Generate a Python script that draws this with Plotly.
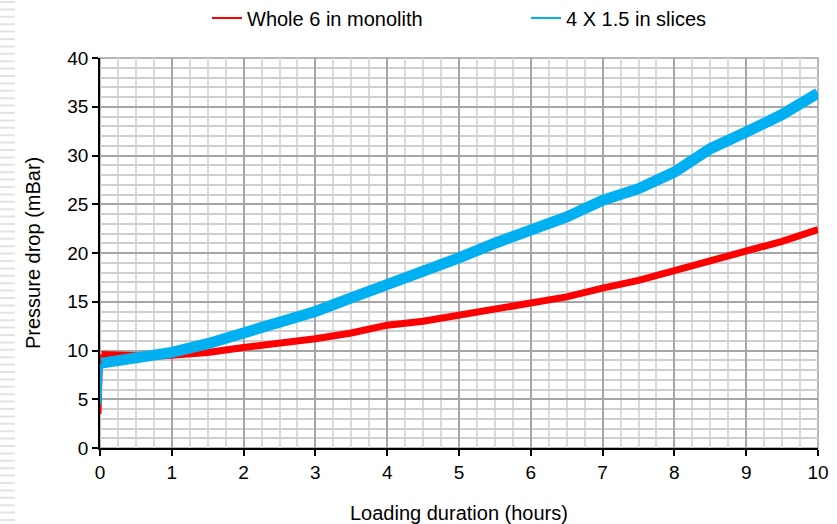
import plotly.graph_objects as go

# ---- data ----
hours = [0, 0.02, 0.25, 0.5, 0.75, 1, 1.5, 2, 2.5, 3, 3.5, 4, 4.5, 5,
         5.5, 6, 6.5, 7, 7.5, 8, 8.5, 9, 9.5, 10]
monolith = [3.5, 9.6, 9.5, 9.4, 9.4, 9.5, 9.8, 10.3, 10.7, 11.2, 11.8, 12.6,
            13.0, 13.6, 14.2, 14.9, 15.5, 16.4, 17.2, 18.2, 19.2, 20.2, 21.2, 22.4]
slices = [4.5, 8.7, 9.0, 9.2, 9.4, 9.8, 10.7, 11.8, 12.9, 14.0, 15.4, 16.7,
          18.0, 19.5, 21.0, 22.3, 23.7, 25.4, 26.6, 28.3, 30.7, 32.4, 34.2, 36.4]
names = ["Whole 6 in monolith", "4 X 1.5 in slices"]
colors = ["#ff0000", "#00b0f0"]
widths = [7, 11]

W, H = 837, 524
L, R, T, B = 100, 19, 58, 76
FONT = "Liberation Sans, Arial, sans-serif"
pw = W - L - R
ph = H - T - B


def px_x(p):
    return (p - L) / pw


def px_y(p):
    return (H - B - p) / ph


fig = go.Figure()
for vals, name, col, w in zip([monolith, slices], names, colors, widths):
    # thin start-up spike at t = 0
    fig.add_trace(go.Scatter(x=hours[:2], y=vals[:2], mode="lines",
                             line=dict(color=col, width=3), showlegend=False,
                             hoverinfo="skip"))
for vals, name, col, w in zip([monolith, slices], names, colors, widths):
    fig.add_trace(go.Scatter(x=hours[1:], y=vals[1:], mode="lines", name=name,
                             line=dict(color=col, width=w), showlegend=False))
# thin-line legend entries
for name, col in zip(names, colors):
    fig.add_trace(go.Scatter(x=[None], y=[None], mode="lines", name=name,
                             line=dict(color=col, width=2)))

# decorative dashed strip at the left edge of the slide
path = ""
y = 2.0
while y < H:
    path += f"M{px_x(0):.4f},{px_y(y):.4f} L{px_x(15):.4f},{px_y(y):.4f} "
    y += 7.4
shapes = [
    dict(type="path", xref="paper", yref="paper", path=path,
         line=dict(color="#e3e3e3", width=2), layer="below"),
    dict(type="rect", xref="paper", yref="paper", x0=0, x1=1, y0=0, y1=1,
         line=dict(color="#a0a0a0", width=1.5), layer="below"),
]

annotations = [
    dict(text="Loading duration (hours)", xref="paper", yref="paper",
         x=0.5, y=px_y(513), xanchor="center", yanchor="middle",
         showarrow=False, font=dict(family=FONT, size=20)),
    dict(text="Pressure drop (mBar)", xref="paper", yref="paper",
         x=px_x(33), y=0.5, xanchor="center", yanchor="middle", textangle=-90,
         showarrow=False, font=dict(family=FONT, size=20)),
]

fig.update_layout(
    width=W, height=H,
    margin=dict(l=L, r=R, t=T, b=B, autoexpand=False),
    paper_bgcolor="white", plot_bgcolor="white",
    font=dict(family=FONT, size=20, color="#000000"),
    shapes=shapes, annotations=annotations,
    showlegend=True,
    legend=dict(orientation="h", x=px_x(207), xanchor="left",
                y=px_y(18), yanchor="middle", entrywidth=274,
                entrywidthmode="pixels",
                font=dict(family=FONT, size=20), bgcolor="rgba(0,0,0,0)",
                itemwidth=30),
)
fig.update_xaxes(
    range=[0, 10], dtick=1, tick0=0, automargin=False,
    showgrid=True, gridcolor="#a6a6a6", gridwidth=1.5,
    minor=dict(dtick=0.25, showgrid=True, gridcolor="#dadada", gridwidth=1.5),
    showline=True, linecolor="#000000", linewidth=1.5,
    ticks="outside", ticklen=6, tickcolor="#000000", tickwidth=1.5,
    tickfont=dict(size=19), zeroline=False,
)
fig.update_yaxes(
    range=[0, 40], dtick=5, tick0=0, automargin=False,
    showgrid=True, gridcolor="#a6a6a6", gridwidth=1.5,
    minor=dict(dtick=1, showgrid=True, gridcolor="#cfcfcf", gridwidth=1.5),
    showline=True, linecolor="#000000", linewidth=1.5,
    ticks="outside", ticklen=6, tickcolor="#000000", tickwidth=1.5,
    tickfont=dict(size=19), zeroline=False,
)

fig.write_html("out.html", config={"displayModeBar": False},
               post_script="document.body.style.margin='0px';"
                           "document.body.style.overflow='hidden';")
